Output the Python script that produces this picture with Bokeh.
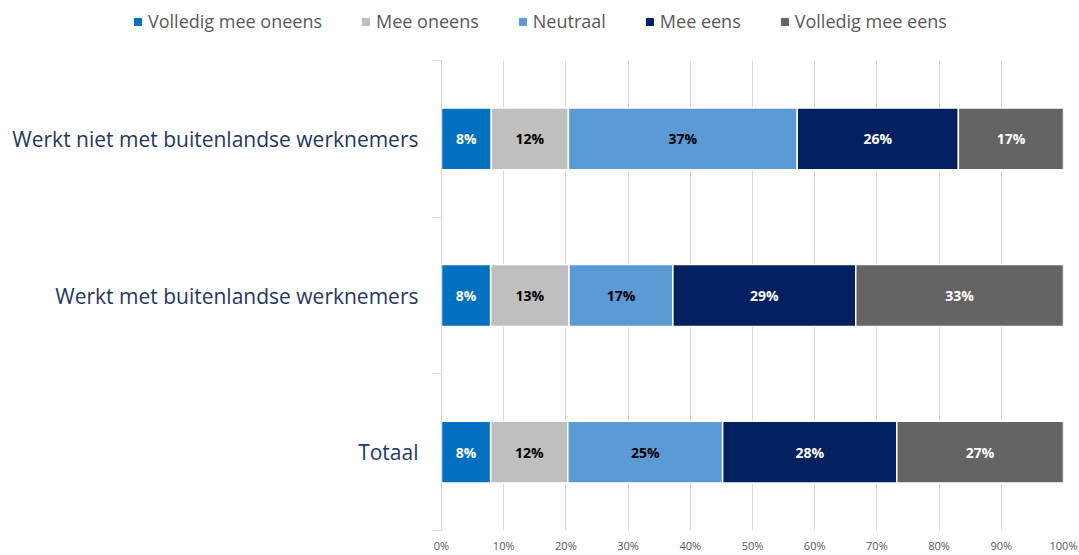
from bokeh.plotting import figure
from bokeh.layouts import column
from bokeh.models import ColumnDataSource, FixedTicker, Legend, LegendItem, PrintfTickFormatter
from bokeh.embed import file_html
from bokeh.resources import INLINE
from bokeh.core.properties import value

categories = ["Totaal", "Werkt met buitenlandse werknemers", "Werkt niet met buitenlandse werknemers"]
series = ["Volledig mee oneens", "Mee oneens", "Neutraal", "Mee eens", "Volledig mee eens"]
volledig_mee_oneens = [7.9, 7.9, 8.0]
mee_oneens = [12.4, 12.6, 12.4]
neutraal = [24.9, 16.7, 36.8]
mee_eens = [28.0, 29.4, 25.9]
volledig_mee_eens = [26.8, 33.4, 16.9]
colors = ["#0070C0", "#BFBFBF", "#5B9BD5", "#002060", "#646464"]
text_colors = ["white", "black", "black", "white", "white"]
x_ticks = [0, 10, 20, 30, 40, 50, 60, 70, 80, 90, 100]

values = [volledig_mee_oneens, mee_oneens, neutraal, mee_eens, volledig_mee_eens]
ypos = [i + 0.5 for i in range(len(categories))]

FONT = "Open Sans"
W = 1079

# ---- legend strip ----
lg = figure(width=W, height=45, output_backend="svg", toolbar_location=None,
            min_border_left=0, min_border_right=0, min_border_top=0, min_border_bottom=0,
            x_range=(0, 1), y_range=(0, 1))
lg.frame_align = False
lg.axis.visible = False
lg.grid.grid_line_color = None
lg.outline_line_color = None
dummy = ColumnDataSource(dict(x=[-10], y=[-10]))
lg_items = []
for s, c in zip(series, colors):
    r = lg.rect(x="x", y="y", width=0.1, height=0.1, color=c, source=dummy)
    lg_items.append(LegendItem(label=s, renderers=[r]))
legend = Legend(items=lg_items, orientation="horizontal", location=(133, 12),
                glyph_width=9, glyph_height=9, label_standoff=6, spacing=39,
                padding=0, margin=0, border_line_color=None, background_fill_alpha=0,
                label_text_font=FONT, label_text_font_size="18px", label_text_color="#595959")
lg.add_layout(legend, "center")

# ---- main chart ----
p = figure(width=W, height=510, x_range=(0, 100), y_range=(0, 3),
           output_backend="svg", toolbar_location=None,
           min_border_left=441, min_border_right=16, min_border_top=15, min_border_bottom=25)
p.frame_align = False
p.outline_line_color = None

data = {"y": ypos}
for name, vals in zip(series, values):
    data[name] = vals
src = ColumnDataSource(data)
p.hbar_stack(series, y="y", height=0.395, color=colors, source=src,
             line_color="white", line_width=1.5)

lx, ly, lt, lc = [], [], [], []
for r in range(len(categories)):
    cum = 0
    for s, vals in enumerate(values):
        v = vals[r]
        lx.append(cum + v / 2)
        ly.append(ypos[r])
        lt.append(f"{round(v):d}%")
        lc.append(text_colors[s])
        cum += v
lsrc = ColumnDataSource(dict(x=lx, y=ly, t=lt, c=lc))
p.text(x="x", y="y", text="t", text_color="c", source=lsrc, text_align="center",
       text_baseline="middle", text_font=value(FONT), text_font_style="bold",
       text_font_size="14px")

p.xaxis.ticker = FixedTicker(ticks=x_ticks)
p.xaxis.formatter = PrintfTickFormatter(format="%d%%")
p.xaxis.axis_line_color = None
p.xaxis.major_tick_line_color = None
p.xaxis.minor_tick_line_color = None
p.xaxis.major_tick_out = 0
p.xaxis.major_tick_in = 0
p.xaxis.minor_tick_out = 0
p.xaxis.major_label_text_font = FONT
p.xaxis.major_label_text_font_size = "11px"
p.xaxis.major_label_text_color = "#595959"
p.xaxis.major_label_standoff = 7

p.xgrid.ticker = FixedTicker(ticks=x_ticks)
p.xgrid.grid_line_color = "#D9D9D9"
p.ygrid.grid_line_color = None

p.yaxis.ticker = FixedTicker(ticks=ypos, minor_ticks=[0, 1, 2, 3])
p.yaxis.major_label_overrides = {y: c for y, c in zip(ypos, categories)}
p.yaxis.axis_line_color = "#D9D9D9"
p.yaxis.major_tick_line_color = None
p.yaxis.minor_tick_line_color = "#D9D9D9"
p.yaxis.minor_tick_out = 9
p.yaxis.minor_tick_in = 0
p.yaxis.major_label_text_font = FONT
p.yaxis.major_label_text_font_size = "21px"
p.yaxis.major_label_text_color = "#1F3864"
p.yaxis.major_label_standoff = 14

layout = column(lg, p, spacing=0)
open("out.html", "w").write(file_html(layout, INLINE))
